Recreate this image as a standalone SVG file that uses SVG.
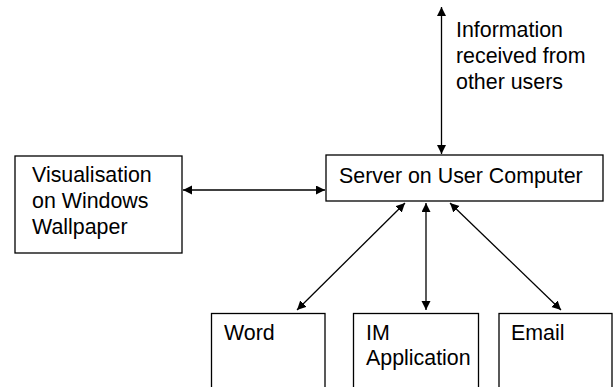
<svg xmlns="http://www.w3.org/2000/svg" width="615" height="387" viewBox="0 0 615 387">
<style>
.box{fill:#fff;stroke:#000;stroke-width:1.3}
.t{font-family:"Liberation Sans",Arial,sans-serif;font-size:21.4px;fill:#000}
.c{stroke:#000;stroke-width:1.3;fill:none;marker-start:url(#ah);marker-end:url(#ah)}
</style>
<defs>
<marker id="ah" markerUnits="userSpaceOnUse" markerWidth="10" markerHeight="10" refX="9" refY="4.5" orient="auto-start-reverse">
<path d="M0,0 L9,4.5 L0,9 z" fill="#000"/>
</marker>
</defs>
<rect width="615" height="387" fill="#fff"/>
<g id="connectors">
<line class="c" x1="183" y1="190" x2="325" y2="190"/>
<line class="c" x1="441.5" y1="7" x2="441.5" y2="154"/>
<line class="c" x1="405" y1="203" x2="297" y2="310"/>
<line class="c" x1="426" y1="203" x2="426" y2="310"/>
<line class="c" x1="450" y1="203" x2="561" y2="310"/>
</g>
<g id="info-label">
<text class="t" x="456" y="37">Information</text>
<text class="t" x="456" y="63">received from</text>
<text class="t" x="456" y="89">other users</text>
</g>
<g id="wallpaper">
<rect class="box" x="15" y="156" width="167" height="97"/>
<text class="t" x="32" y="182">Visualisation</text>
<text class="t" x="32" y="208">on Windows</text>
<text class="t" x="32" y="234">Wallpaper</text>
</g>
<g id="server">
<rect class="box" x="326" y="155" width="277" height="46"/>
<text class="t" x="339" y="183">Server on User Computer</text>
</g>
<g id="word">
<rect class="box" x="211.5" y="313.5" width="113.5" height="80"/>
<text class="t" x="224" y="340">Word</text>
</g>
<g id="im">
<rect class="box" x="353.5" y="313.5" width="125" height="80"/>
<text class="t" x="366" y="340">IM</text>
<text class="t" x="366" y="365">Application</text>
</g>
<g id="email">
<rect class="box" x="499" y="313.5" width="113" height="80"/>
<text class="t" x="511" y="340">Email</text>
</g>
</svg>
